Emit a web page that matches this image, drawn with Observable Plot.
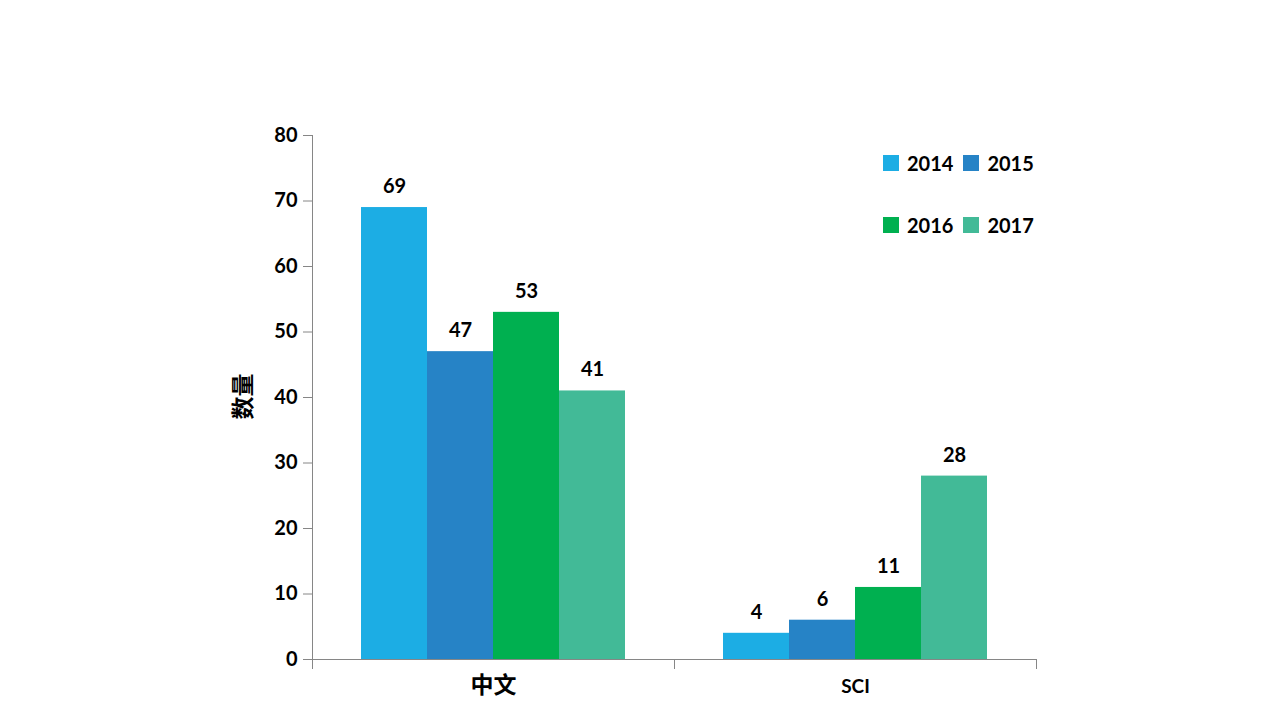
<!DOCTYPE html>
<html>
<head>
<meta charset="utf-8">
<script src="https://cdn.jsdelivr.net/npm/d3@7"></script>
<script src="https://cdn.jsdelivr.net/npm/@observablehq/plot@0.6"></script>
<style>
  html, body { margin: 0; padding: 0; background: #fff; }
  #wrap { position: relative; width: 1280px; height: 720px; overflow: hidden; font-family: Lato, "Noto Sans CJK SC", sans-serif; }
  #legend { position: absolute; left: 883px; top: 152px; display: grid; grid-template-columns: auto auto; column-gap: 10px; row-gap: 40px; }
  .item { display: flex; align-items: center; height: 22px; font-size: 20px; font-weight: bold; color: #000; }
  .sw { width: 16px; height: 16px; margin-right: 8px; }
</style>
</head>
<body>
<div id="wrap"><div id="legend"></div></div>
<script>
const categories = ["中文", "SCI"];
const years = ["2014", "2015", "2016", "2017"];
const colors = ["#1CADE4", "#2683C6", "#00B050", "#42BA97"];
const values2014 = [69, 4];
const values2015 = [47, 6];
const values2016 = [53, 11];
const values2017 = [41, 28];
const yTicks = [0, 10, 20, 30, 40, 50, 60, 70, 80];
const yLabel = "数量";

const series = [values2014, values2015, values2016, values2017];
const data = [];
categories.forEach((c, ci) => years.forEach((y, yi) => data.push({category: c, year: y, value: series[yi][ci]})));

const W = 1280, H = 720, mTop = 135, mBottom = 61, mLeft = 312, mRight = 244;
const plotH = H - mTop - mBottom;
const axisColor = "#868686";

const chart = Plot.plot({
  width: W, height: H,
  marginTop: mTop, marginBottom: mBottom, marginLeft: mLeft, marginRight: mRight,
  style: {fontFamily: "Lato, 'Noto Sans CJK SC', sans-serif", background: "white"},
  fx: {domain: categories, padding: 0, axis: null},
  x: {domain: years, paddingInner: 0, paddingOuter: 0.742, axis: null},
  y: {domain: [0, 80], axis: null},
  color: {domain: years, range: colors},
  marks: [
    Plot.barY(data, {fx: "category", x: "year", y: "value", fill: "year", inset: 0}),
    Plot.text(data, {fx: "category", x: "year", y: "value", text: d => String(d.value), dy: -21, fontSize: 20, fontWeight: "bold", fill: "black"}),
    Plot.ruleY([0], {stroke: axisColor, strokeWidth: 1}),
    Plot.frame({anchor: "left", facetAnchor: "left", stroke: axisColor, insetBottom: -9}),
    Plot.frame({anchor: "left", stroke: axisColor, insetTop: plotH, insetBottom: -9}),
    Plot.frame({anchor: "right", facetAnchor: "right", stroke: axisColor, insetTop: plotH, insetBottom: -9}),
    Plot.axisY({ticks: yTicks, tickFormat: d => String(d), tickSize: 9, tickPadding: 6, fontSize: 20, fontWeight: "bold", stroke: axisColor, fill: "black", label: null}),
    Plot.text(categories, {fx: d => d, text: d => d, frameAnchor: "bottom", dy: 33, fontSize: d => (/[A-Za-z]/.test(d) ? 19 : 23), fontWeight: "bold", fill: "black"}),
    Plot.text([yLabel], {frameAnchor: "left", facetAnchor: "left", rotate: -90, dx: -69, dy: 22, fontSize: 23, fontWeight: "bold", fill: "black"})
  ]
});
document.getElementById("wrap").prepend(chart);

const legend = d3.select("#legend");
years.forEach((y, i) => {
  const it = legend.append("div").attr("class", "item");
  it.append("div").attr("class", "sw").style("background", colors[i]);
  it.append("span").text(y);
});
</script>
</body>
</html>
